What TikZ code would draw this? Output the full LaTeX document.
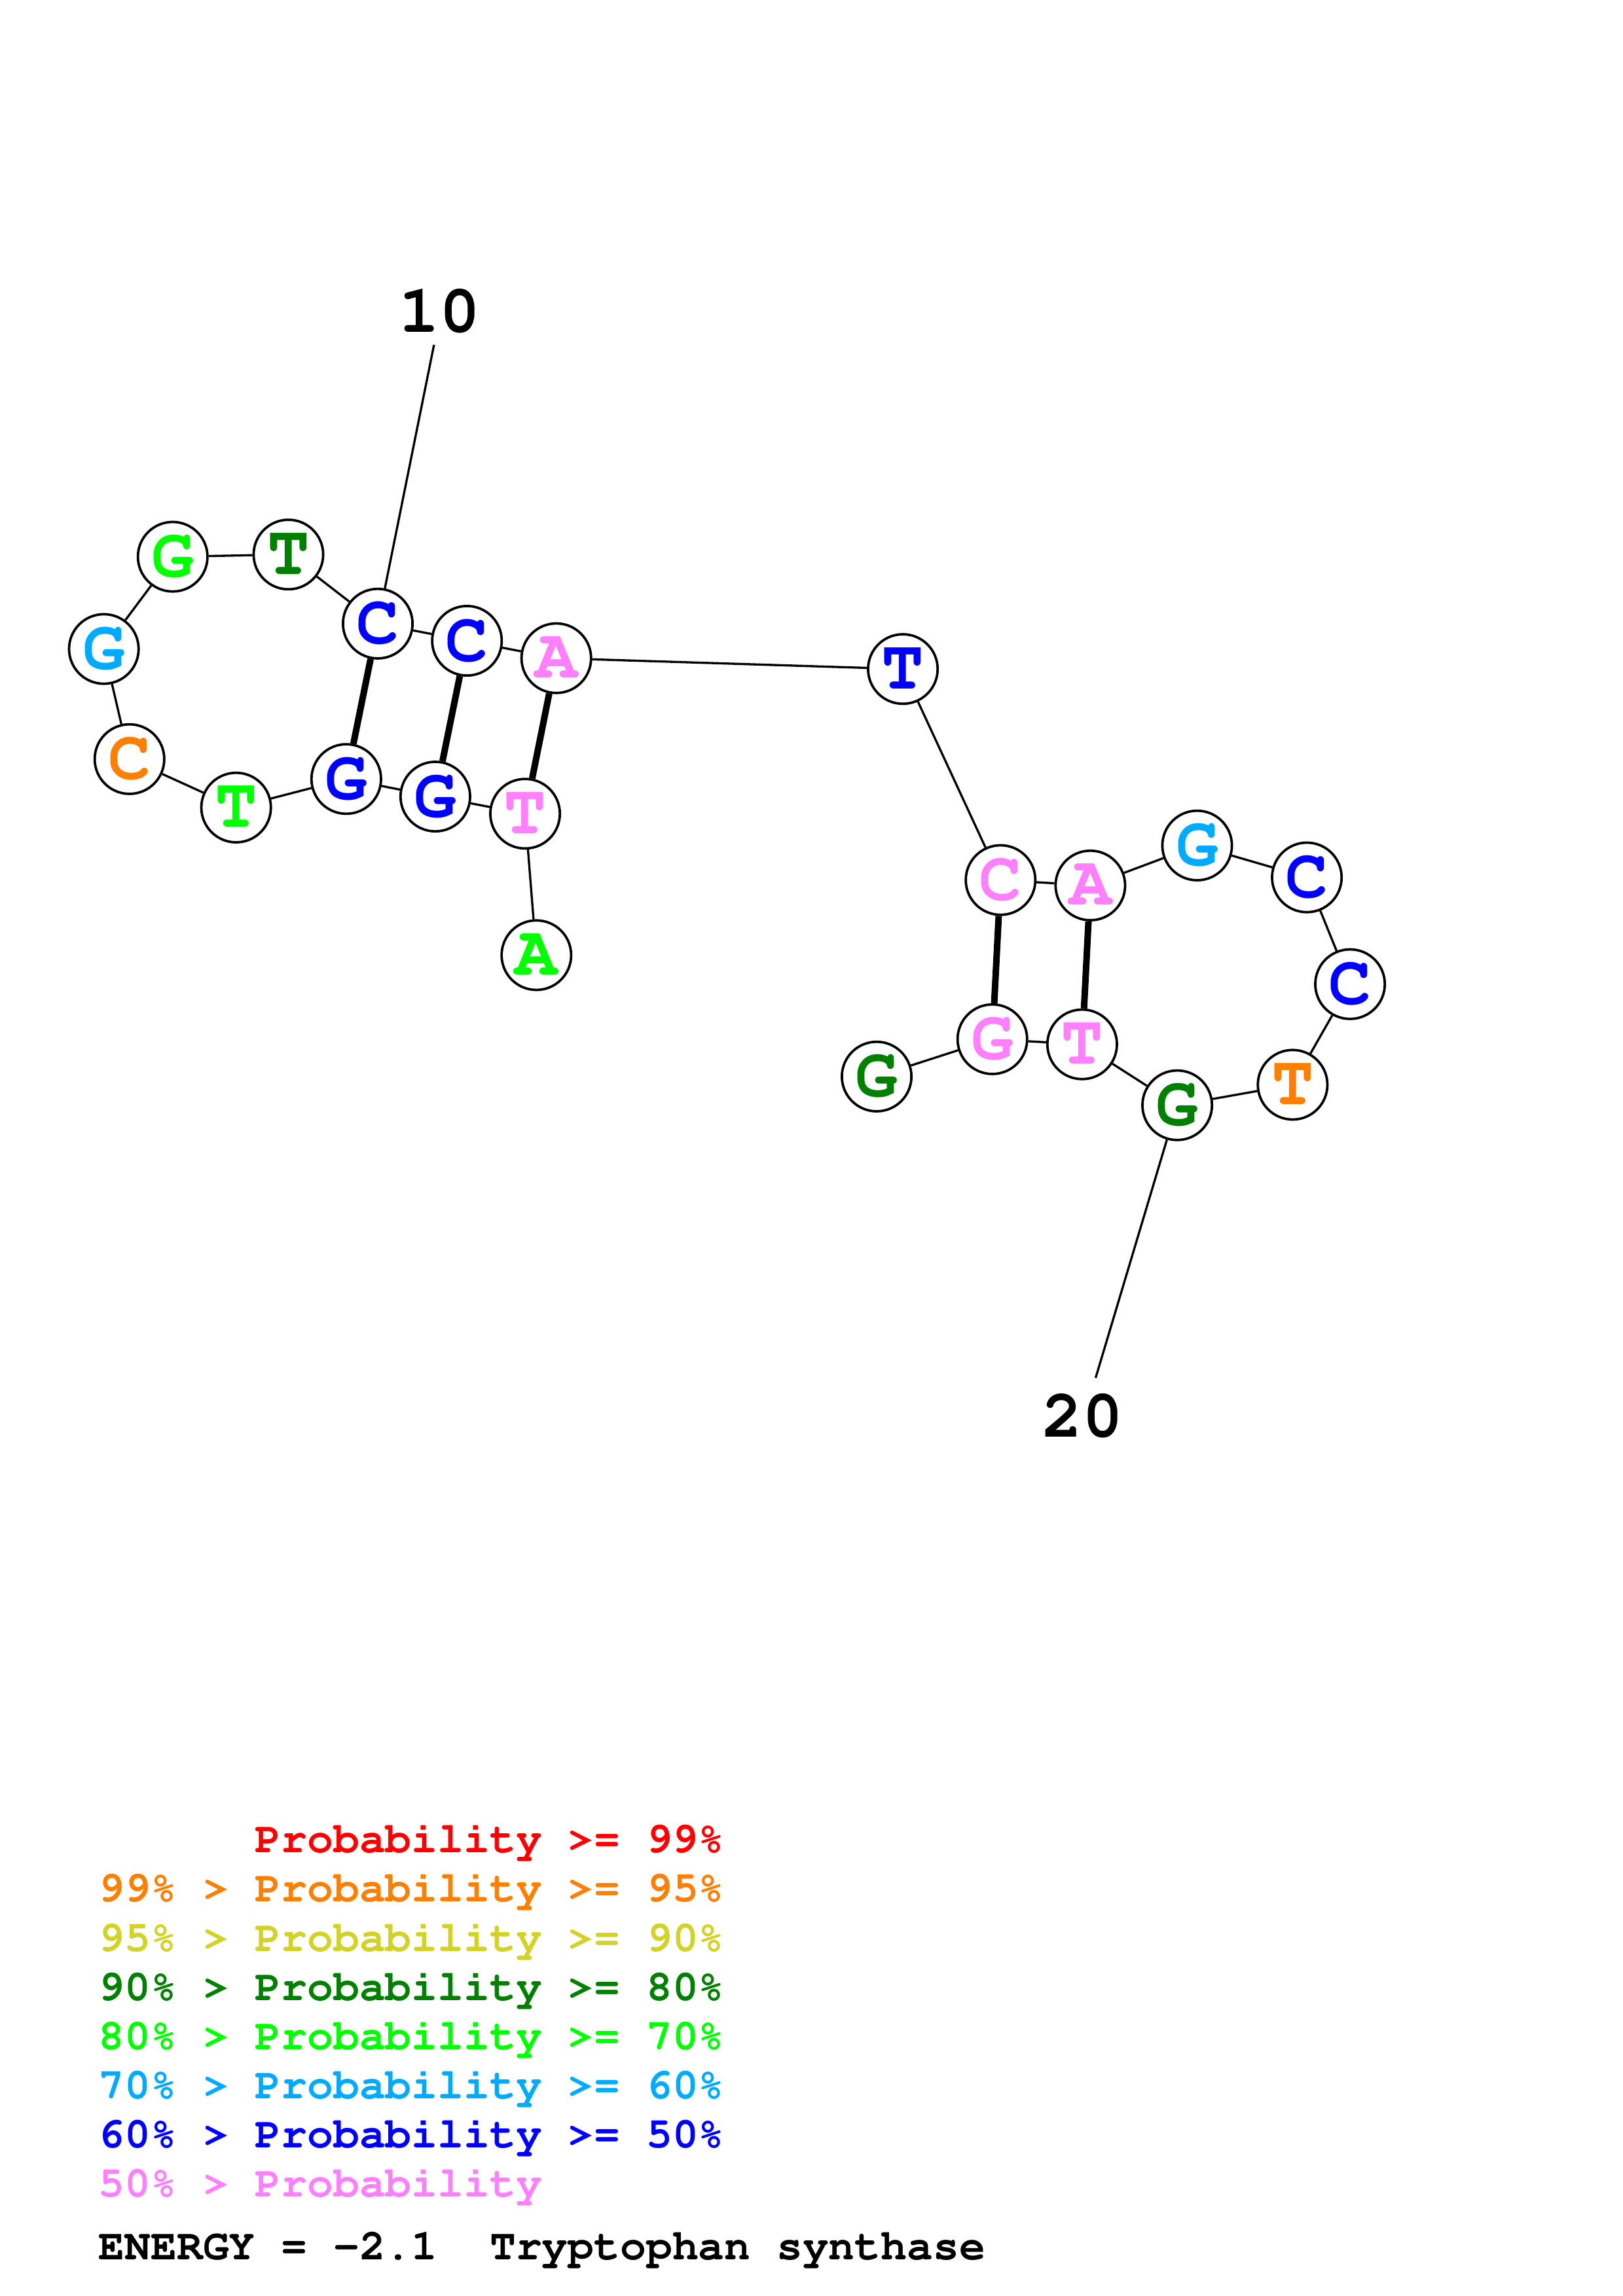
\documentclass[tikz,border=0pt]{standalone}
\usepackage{tikz}
\usetikzlibrary{arrows}
\newcommand{\crfont}[1]{\fontencoding{T1}\fontfamily{pcr}\fontseries{b}\fontsize{#1}{#1}\selectfont}

\definecolor{pr99}{RGB}{255,0,0}
\definecolor{pr95}{RGB}{255,128,0}
\definecolor{pr90}{RGB}{210,210,40}
\definecolor{pr80}{RGB}{0,128,0}
\definecolor{pr70}{RGB}{0,255,0}
\definecolor{pr60}{RGB}{0,170,255}
\definecolor{pr50}{RGB}{0,0,255}
\definecolor{prlow}{RGB}{255,128,255}

\begin{document}
\begin{tikzpicture}[x=0.018944cm, y=-0.018944cm]
        \tikzset{nt/.style = {shape=circle, draw, fill=white, line width=0.9pt,
                minimum size=0.9cm, inner sep=0pt, font=\crfont{26}}}
        \tikzset{num/.style = {inner sep=0pt, font=\crfont{25}}}
        \tikzset{legend/.style = {anchor=base west, inner sep=0pt,
                font=\crfont{16}}}
        \tikzset{edge/.style = {-, line width=0.8pt}}
        \tikzset{pair/.style = {-, line width=2.4pt}}

        \useasboundingbox (0, 0) rectangle (1108, 1568);

        \node[nt, text=pr70] (n1) at (366.2, 652.3) {A};
        \node[nt, text=prlow] (n2) at (358.5, 555.7) {T};
        \node[nt, text=pr50] (n3) at (297.2, 544.0) {G};
        \node[nt, text=pr50] (n4) at (236.4, 532.0) {G};
        \node[nt, text=pr70] (n5) at (161.2, 551.5) {T};
        \node[nt, text=pr95] (n6) at (88.4, 518.4) {C};
        \node[nt, text=pr60] (n7) at (70.9, 443.2) {G};
        \node[nt, text=pr70] (n8) at (117.9, 380.2) {G};
        \node[nt, text=pr80] (n9) at (196.9, 378.7) {T};
        \node[nt, text=pr50] (n10) at (257.9, 425.9) {C};
        \node[nt, text=pr50] (n11) at (318.8, 437.6) {C};
        \node[nt, text=prlow] (n12) at (379.8, 449.5) {A};

        \node[nt, text=pr50] (n13) at (616.4, 456.9) {T};
        \node[nt, text=prlow] (n14) at (683.1, 601.0) {C};
        \node[nt, text=prlow] (n15) at (744.4, 604.7) {A};
        \node[nt, text=pr60] (n16) at (817.3, 577.4) {G};
        \node[nt, text=pr50] (n17) at (892.2, 599.2) {C};
        \node[nt, text=pr50] (n18) at (921.7, 672.1) {C};
        \node[nt, text=pr95] (n19) at (882.5, 740.8) {T};
        \node[nt, text=pr80] (n20) at (803.7, 754.8) {G};
        \node[nt, text=prlow] (n21) at (738.8, 713.2) {T};
        \node[nt, text=prlow] (n22) at (677.5, 709.7) {G};
        \node[nt, text=pr80] (n23) at (598.5, 735.2) {G};

        \foreach \i/\j in {1/2, 2/3, 3/4, 4/5, 5/6, 6/7, 7/8, 8/9, 9/10, 10/11,
                11/12, 12/13, 13/14, 14/15, 15/16, 16/17, 17/18, 18/19, 19/20,
                20/21, 21/22, 22/23}
            \draw[edge] (n\i) to (n\j);

        \draw[pair] (n10) to (n4);
        \draw[pair] (n11) to (n3);
        \draw[pair] (n12) to (n2);
        \draw[pair] (n14) to (n22);
        \draw[pair] (n15) to (n21);

        \node[num] (l10) at (300.2, 212.6) {10};
        \coordinate (t10) at (296.3, 235.5);
        \draw[edge] (n10) to (t10);

        \node[num] (l20) at (739.0, 967.0) {20};
        \coordinate (t20) at (748.0, 941.0);
        \draw[edge] (n20) to (t20);

        \node[legend, text=pr99] (k1) at (67, 1265.3) {\phantom{99\% > }Probability >= 99\%};
        \node[legend, text=pr95] (k2) at (67, 1298.9) {99\% > Probability >= 95\%};
        \node[legend, text=pr90] (k3) at (67, 1332.5) {95\% > Probability >= 90\%};
        \node[legend, text=pr80] (k4) at (67, 1366.1) {90\% > Probability >= 80\%};
        \node[legend, text=pr70] (k5) at (67, 1399.7) {80\% > Probability >= 70\%};
        \node[legend, text=pr60] (k6) at (67, 1433.2) {70\% > Probability >= 60\%};
        \node[legend, text=pr50] (k7) at (67, 1466.8) {60\% > Probability >= 50\%};
        \node[legend, text=prlow] (k8) at (67, 1500.4) {50\% > Probability};
        \node[legend] (energy) at (67, 1543.3) {ENERGY = -2.1\ \ Tryptophan synthase};
\end{tikzpicture}
\end{document}
